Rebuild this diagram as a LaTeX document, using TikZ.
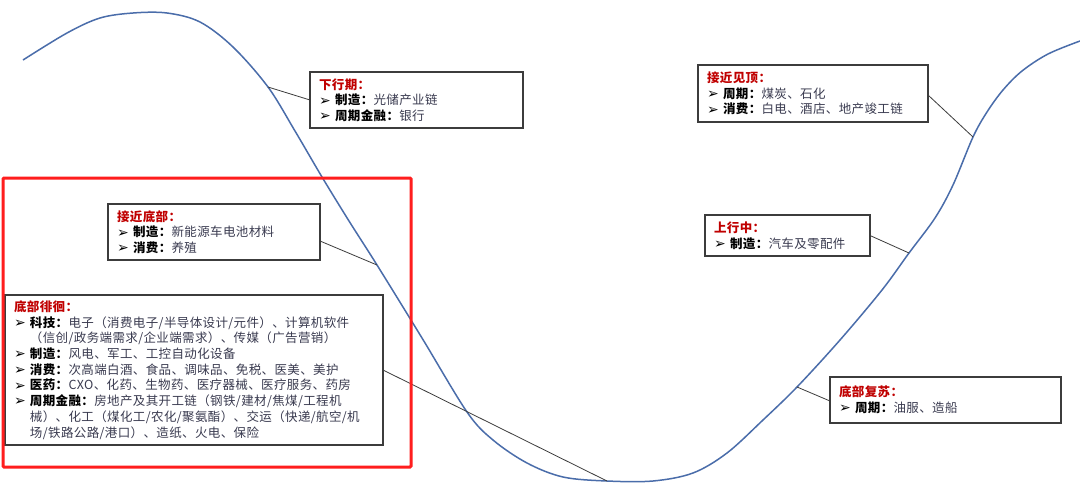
\documentclass[tikz,border=0pt]{standalone}
\usepackage{fontspec}
\setmainfont{Noto Sans CJK SC}[LetterSpace=3]
\newfontfamily\dvfont{DejaVu Sans}
\usetikzlibrary{calc}
\definecolor{curveblue}{HTML}{4A6DAA}
\definecolor{boxgray}{HTML}{3C3C3C}
\definecolor{titlered}{HTML}{C00000}
\definecolor{txtgray}{HTML}{3A3B50}
\definecolor{framered}{HTML}{FF1E1E}
\newcommand{\bul}{\makebox[16pt][l]{\raisebox{-0.3pt}{\dvfont\bfseries\fontsize{14}{14}\selectfont ➢}}}
\newcommand{\itm}[2]{\bul\textbf{#1：}{\color{txtgray}#2}}
\newcommand{\ttl}[1]{{\color{titlered}\bfseries #1：}}
\newcommand{\cont}[1]{\hspace*{16pt}{\color{txtgray}#1}}
\begin{document}
\begin{tikzpicture}[x=1pt,y=-1pt,
  infobox/.style={draw=boxgray, line width=1.6pt, fill=white, anchor=north west,
    inner xsep=9pt, inner ysep=2pt, outer sep=0pt, align=left,
    font=\fontsize{12.5}{15.7}\selectfont},
  leader/.style={draw=boxgray, line width=0.8pt},
  cyclecurve/.style={draw=curveblue, line width=1.5pt, line join=round}]
\useasboundingbox (0,0) rectangle (1080,496);
\fill[white] (0,0) rectangle (1080,496);

% points on the curve where leaders end
\coordinate (c1) at (268,87);
\coordinate (c2) at (973,137);
\coordinate (c3) at (377,265);
\coordinate (c4) at (607,481);
\coordinate (c5) at (909,253);
\coordinate (c6) at (797,387);

\draw[cyclecurve] plot[smooth, tension=0.55] coordinates {
 (23,60) (67,33) (100,18) (133,13) (167,13) (200,22) (233,47) (268,87)
 (295,131) (322,177) (349,221) (377,265) (422,338) (467,412) (493,440)
 (527,463) (563,477) (607,481) (653,481) (693,473) (727,453) (763,420)
 (797,387) (840,340) (882,290) (909,253) (935,218) (953,185) (973,137)
 (987,112) (1003,90) (1022,71) (1048,54) (1080,41)};

% boxes
\node[infobox, minimum width=213pt, minimum height=56pt, text width=195pt] (b1) at (310,72)
 {\ttl{下行期}\\ \itm{制造}{光储产业链}\\ \itm{周期金融}{银行}};
\node[infobox, minimum width=230pt, minimum height=57pt, text width=212pt] (b2) at (698,65)
 {\ttl{接近见顶}\\ \itm{周期}{煤炭、石化}\\ \itm{消费}{白电、酒店、地产竣工链}};
\node[infobox, minimum width=212pt, minimum height=56pt, text width=194pt] (b3) at (108,204)
 {\ttl{接近底部}\\ \itm{制造}{新能源车电池材料}\\ \itm{消费}{养殖}};
\node[infobox, minimum width=378pt, minimum height=150pt, text width=360pt] (b4) at (5,295)
 {\ttl{底部徘徊}\\
  \itm{科技}{电子（消费电子/半导体设计/元件）、计算机软件}\\
  \cont{（信创/政务端需求/企业端需求）、传媒（广告营销）}\\
  \itm{制造}{风电、军工、工控自动化设备}\\
  \itm{消费}{次高端白酒、食品、调味品、免税、医美、美护}\\
  \itm{医药}{CXO、化药、生物药、医疗器械、医疗服务、药房}\\
  \itm{周期金融}{房地产及其开工链（钢铁/建材/焦煤/工程机}\\
  \cont{械）、化工（煤化工/农化/聚氨酯）、交运（快递/航空/机}\\
  \cont{场/铁路公路/港口）、造纸、火电、保险}};
\node[infobox, minimum width=165pt, minimum height=41pt, text width=147pt] (b5) at (705,215)
 {\ttl{上行中}\\ \itm{制造}{汽车及零配件}};
\node[infobox, minimum width=231pt, minimum height=46pt, text width=213pt] (b6) at (830,377)
 {\ttl{底部复苏}\\ \itm{周期}{油服、造船}};

% leaders
\draw[leader] (b1.west) -- (c1);
\draw[leader] ($(b2.south east)+(0,-27)$) -- (c2);
\draw[leader] ($(b3.south east)+(0,-19)$) -- (c3);
\draw[leader] (b4.east) -- (c4);
\draw[leader] (b5.east) -- (c5);
\draw[leader] ($(b6.south west)+(0,-22)$) -- (c6);

% highlight frame
\draw[framered, line width=3pt, rounded corners=1pt] (3,178) rectangle (411,467);
\end{tikzpicture}
\end{document}
